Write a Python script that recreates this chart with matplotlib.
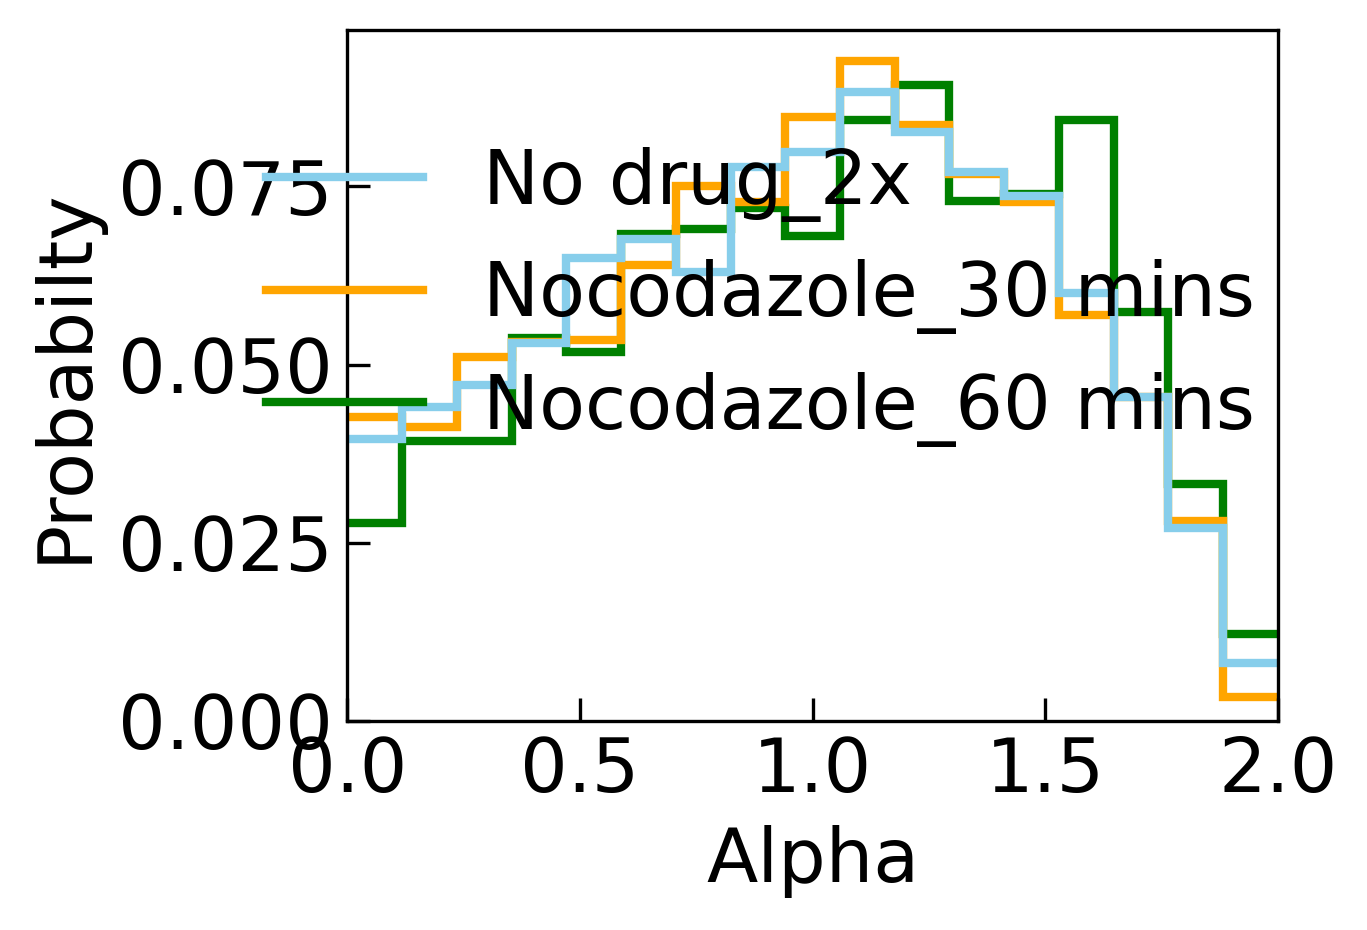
import numpy as np
import matplotlib
matplotlib.use("Agg")
import matplotlib.pyplot as plt

edges = np.linspace(0, 2, 18)

no_drug = [0.0395, 0.0440, 0.0472, 0.0530, 0.0649, 0.0676, 0.0630, 0.0777, 0.0798,
           0.0883, 0.0826, 0.0770, 0.0736, 0.0601, 0.0454, 0.0271, 0.0081]
noco_30 = [0.0426, 0.0413, 0.0511, 0.0531, 0.0535, 0.0640, 0.0750, 0.0728, 0.0848,
           0.0926, 0.0836, 0.0767, 0.0728, 0.0569, 0.0454, 0.0281, 0.0034]
noco_60 = [0.0278, 0.0393, 0.0393, 0.0537, 0.0518, 0.0683, 0.0690, 0.0720, 0.0680,
           0.0844, 0.0893, 0.0730, 0.0739, 0.0844, 0.0574, 0.0333, 0.0122]

fig = plt.figure(figsize=(4.56, 3.1), dpi=300)
ax = fig.add_axes([0.254, 0.225, 0.680, 0.743])

ax.stairs(noco_60, edges, color="green", lw=2, baseline=None, label="Nocodazole_60 mins")
ax.stairs(noco_30, edges, color="orange", lw=2, baseline=None, label="Nocodazole_30 mins")
ax.stairs(no_drug, edges, color="skyblue", lw=2, baseline=None, label="No drug_2x")

ax.set_xlim(0, 2)
ax.set_ylim(0, 0.097)
ax.set_xticks([0, 0.5, 1.0, 1.5, 2.0])
ax.set_yticks([0, 0.025, 0.05, 0.075])
ax.tick_params(direction="in", length=5.5, labelsize=18)
ax.set_xlabel("Alpha", fontsize=18)
ax.set_ylabel("Probabilty", fontsize=18)

h, l = ax.get_legend_handles_labels()
fig.legend(h[::-1], l[::-1], loc="upper left", bbox_to_anchor=(0.145, 0.915),
           frameon=False, fontsize=18, handlelength=2.1, handletextpad=0.8,
           labelspacing=0.5)

fig.savefig("out.png", dpi=300)
